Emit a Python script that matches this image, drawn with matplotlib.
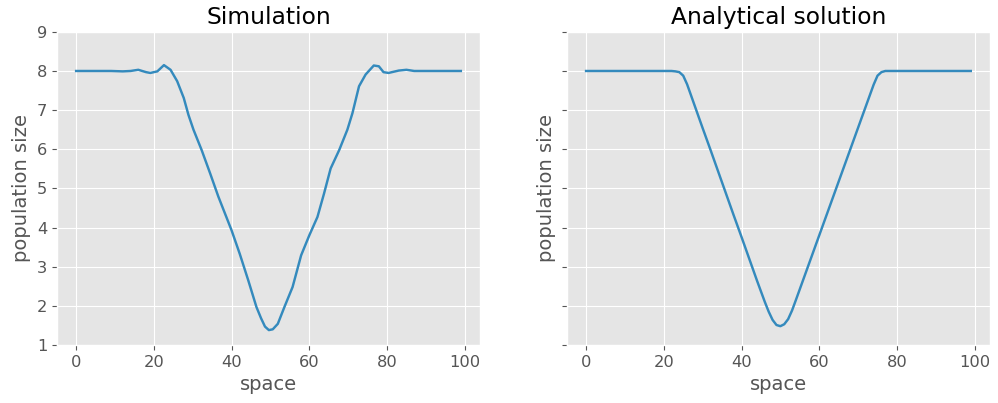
import matplotlib
matplotlib.use("Agg")
import matplotlib.pyplot as plt

plt.style.use("ggplot")
plt.rcParams["font.size"] = 11.7

# simulated population along space
sim_x = [0, 3, 6, 9, 12, 14, 16, 18, 19.1, 20.9, 22.6, 24.3, 26.0, 27.7, 28.9,
         30.2, 32.3, 34.5, 36.6, 38.3, 40.0, 42.1, 44.3, 46.4, 47.6, 48.6, 49.6,
         50.6, 51.9, 53.6, 55.7, 57.9, 60.0, 62.1, 63.8, 65.5, 67.7, 69.8, 71.1,
         72.8, 74.5, 76.6, 77.9, 79.1, 80.4, 83.0, 85, 87, 90, 95, 99]
sim_y = [8.0, 8.0, 8.0, 8.0, 7.99, 8.0, 8.03, 7.97, 7.95, 7.99, 8.15, 8.03, 7.74,
         7.31, 6.88, 6.50, 5.98, 5.38, 4.79, 4.36, 3.93, 3.33, 2.65, 1.97, 1.68,
         1.47, 1.38, 1.40, 1.54, 1.97, 2.48, 3.29, 3.80, 4.27, 4.87, 5.51, 5.98,
         6.50, 6.92, 7.61, 7.91, 8.14, 8.12, 7.97, 7.95, 8.01, 8.03, 8.0, 8.0,
         8.0, 8.0]

# analytical solution
ana_x = [0, 10, 20, 22, 23, 24, 25, 26, 28, 30, 32, 34, 36, 38, 40, 42, 44, 46,
         47, 48, 49, 50, 51, 52, 53, 54, 56, 58, 60, 62, 64, 66, 68, 70, 72, 74,
         75, 76, 77, 80, 90, 99]
ana_y = [8.0, 8.0, 8.0, 8.0, 7.99, 7.97, 7.88, 7.66, 7.1, 6.54, 5.99, 5.43, 4.87,
         4.31, 3.76, 3.2, 2.64, 2.1, 1.85, 1.64, 1.51, 1.48, 1.53, 1.66, 1.88,
         2.15, 2.7, 3.25, 3.8, 4.35, 4.9, 5.45, 6.0, 6.55, 7.1, 7.65, 7.88, 7.97,
         8.0, 8.0, 8.0, 8.0]

fig, axes = plt.subplots(1, 2, figsize=(9.98, 4.03), dpi=100, sharey=True)

axes[0].plot(sim_x, sim_y, color="#348ABD", lw=1.75)
axes[0].set_title("Simulation")
axes[1].plot(ana_x, ana_y, color="#348ABD", lw=1.75)
axes[1].set_title("Analytical solution")

for ax in axes:
    ax.set_xlabel("space")
    ax.set_ylabel("population size")
    ax.set_ylim(1, 9)
    ax.set_xticks([0, 20, 40, 60, 80, 100])

fig.subplots_adjust(left=0.057, right=0.992, bottom=0.144, top=0.921, wspace=0.205)
fig.savefig("out.png", dpi=100)
